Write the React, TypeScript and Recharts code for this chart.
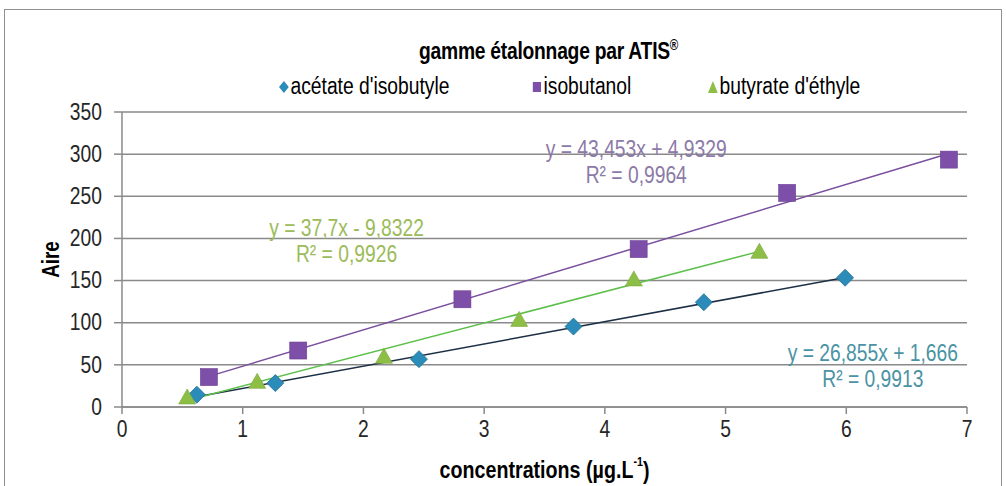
import React from 'react';
import {
  ComposedChart,
  Scatter,
  XAxis,
  YAxis,
  CartesianGrid,
  ReferenceLine,
  ReferenceDot,
  Label,
} from 'recharts';

// Concentrations (µg/L) and areas
const concAcetate = [0.62, 1.27, 2.46, 3.74, 4.82, 5.99];
const aireAcetate = [14.6, 28.4, 56.8, 95.4, 124.3, 153.4];
const concIsobutanol = [0.72, 1.46, 2.82, 4.28, 5.51, 6.85];
const aireIsobutanol = [35.5, 67, 127.8, 187.3, 254, 293.5];
const concButyrate = [0.54, 1.12, 2.17, 3.29, 4.24, 5.28];
const aireButyrate = [12.5, 31, 60.7, 104.5, 152.6, 185.3];

const seriesNames = ["acétate d'isobutyle", 'isobutanol', "butyrate d'éthyle"];
const trendEquation = ['y = 26,855x + 1,666', 'y = 43,453x + 4,9329', 'y = 37,7x - 9,8322'];
const trendR2 = ['R² = 0,9913', 'R² = 0,9964', 'R² = 0,9926'];

const xTicks = [0, 1, 2, 3, 4, 5, 6, 7];
const yTicks = [0, 50, 100, 150, 200, 250, 300, 350];

// no Arial Narrow here, so squeeze Liberation Sans
const FONT = "'Liberation Sans', Arial, sans-serif";
const NARROW = 0.82;
const FS = 23.5;

const markerColor = ['#2b8cb9', '#7d4fa8', '#8dbf46'];
const lineColor = ['#1c2f45', '#7a4f9e', '#5cbf4a'];
const labelColor = ['#4a93a4', '#8c7aa8', '#9cbb5a'];
// where each equation label sits, in data units
const labelAnchor = [
  { x: 6.22, y: 49 },
  { x: 4.26, y: 292 },
  { x: 1.86, y: 198 },
];

const toPoints = (xs: number[], ys: number[]) => xs.map((x, i) => ({ x, y: ys[i] }));
const series = [
  toPoints(concAcetate, aireAcetate),
  toPoints(concIsobutanol, aireIsobutanol),
  toPoints(concButyrate, aireButyrate),
];

// least squares line through the plotted points
const fit = (pts: { x: number; y: number }[]) => {
  const n = pts.length;
  const mx = pts.reduce((s, p) => s + p.x, 0) / n;
  const my = pts.reduce((s, p) => s + p.y, 0) / n;
  let sxy = 0;
  let sxx = 0;
  pts.forEach((p) => {
    sxy += (p.x - mx) * (p.y - my);
    sxx += (p.x - mx) * (p.x - mx);
  });
  const a = sxy / sxx;
  return { a, b: my - a * mx };
};

const NarrowText = ({ x, y, children, anchor = 'middle', ...rest }: any) => (
  <text
    transform={`translate(${x},${y}) scale(${NARROW},1)`}
    textAnchor={anchor}
    dominantBaseline="central"
    fontFamily={FONT}
    fontSize={FS}
    {...rest}
  >
    {children}
  </text>
);

const XTick = (props: any) => {
  const { x, y, payload } = props;
  return (
    <NarrowText x={x} y={y + 13} fill="#262626">
      {payload.value}
    </NarrowText>
  );
};

const YTick = (props: any) => {
  const { x, y, payload } = props;
  return (
    <NarrowText x={x} y={y} anchor="end" fill="#262626">
      {payload.value}
    </NarrowText>
  );
};

const Diamond = (props: any) => {
  const { cx, cy } = props;
  const r = 8.5;
  return (
    <polygon
      points={`${cx},${cy - r} ${cx + r},${cy} ${cx},${cy + r} ${cx - r},${cy}`}
      fill={markerColor[0]}
      stroke="#1f6f95"
      strokeWidth={0.8}
    />
  );
};

const Square = (props: any) => {
  const { cx, cy } = props;
  const s = 17;
  return <rect x={cx - s / 2} y={cy - s / 2} width={s} height={s} fill={markerColor[1]} stroke="#6a3f93" strokeWidth={0.6} />;
};

const Triangle = (props: any) => {
  const { cx, cy } = props;
  const w = 17;
  const h = 15;
  return (
    <polygon
      points={`${cx},${cy - h / 2} ${cx + w / 2},${cy + h / 2} ${cx - w / 2},${cy + h / 2}`}
      fill={markerColor[2]}
      stroke="#79a83a"
      strokeWidth={0.6}
    />
  );
};

const shapes = [Diamond, Square, Triangle];

const EquationLabel = (i: number) => (props: any) => {
  const { cx, cy } = props;
  return (
    <g>
      <NarrowText x={cx} y={cy - 12} fill={labelColor[i]}>
        {trendEquation[i]}
      </NarrowText>
      <NarrowText x={cx} y={cy + 14} fill={labelColor[i]}>
        {trendR2[i]}
      </NarrowText>
    </g>
  );
};

const LegendMarker = ({ i }: { i: number }) => (
  <svg width={12} height={12} style={{ marginRight: 2 }}>
    {i === 0 && <polygon points="6,0 12,6 6,12 0,6" fill={markerColor[0]} />}
    {i === 1 && <rect x={1} y={1} width={10} height={10} fill={markerColor[1]} />}
    {i === 2 && <polygon points="6,0 12,12 0,12" fill={markerColor[2]} />}
  </svg>
);

const narrowHtml: React.CSSProperties = {
  display: 'inline-block',
  transform: `scaleX(${NARROW})`,
  transformOrigin: 'left center',
  whiteSpace: 'nowrap',
};

const legendLeft = [279, 532, 708];

export default function App() {
  return (
    <div
      style={{
        position: 'fixed',
        left: 0,
        top: 0,
        width: 1006,
        height: 486,
        background: '#fff',
        overflow: 'hidden',
        fontFamily: FONT,
      }}
    >
      <div
        style={{
          position: 'absolute',
          left: 4,
          top: 9,
          width: 996,
          height: 500,
          border: '1px solid #8f8f8f',
        }}
      />
      <div
        style={{
          position: 'absolute',
          left: 419,
          top: 37,
          fontWeight: 'bold',
          fontSize: 23.5,
          letterSpacing: -0.3,
          color: '#000',
          ...narrowHtml,
        }}
      >
        gamme étalonnage par ATIS<sup style={{ fontSize: 14 }}>®</sup>
      </div>
      {seriesNames.map((n, i) => (
        <div
          key={n}
          style={{
            position: 'absolute',
            left: legendLeft[i],
            top: 73,
            fontSize: FS,
            color: '#000',
            ...narrowHtml,
            display: 'flex',
            alignItems: 'center',
          }}
        >
          <LegendMarker i={i} />
          {n}
        </div>
      ))}

      <div style={{ position: 'absolute', left: 0, top: 0 }}>
        <ComposedChart width={1006} height={486} margin={{ top: 112, right: 39, bottom: 39, left: 52 }}>
          <CartesianGrid horizontal vertical={false} stroke="#8a8a8a" strokeWidth={1.5} />
          <XAxis
            type="number"
            dataKey="x"
            domain={[0, 7]}
            ticks={xTicks}
            interval={0}
            height={40}
            tickSize={7}
            stroke="#8a8a8a"
            strokeWidth={1.5}
            tick={<XTick />}
          >
            <Label
              content={(p: any) => {
                const vb = p.viewBox;
                return (
                  <NarrowText x={vb.x + vb.width / 2} y={470} fontWeight="bold" fontSize={24} fill="#000">
                    concentrations (µg.L
                    <tspan dy={-8} fontSize={13}>-1</tspan>
                    <tspan dy={8}>)</tspan>
                  </NarrowText>
                );
              }}
            />
          </XAxis>
          <YAxis
            type="number"
            dataKey="y"
            domain={[0, 350]}
            ticks={yTicks}
            interval={0}
            width={70}
            tickSize={8}
            tickMargin={12}
            stroke="#8a8a8a"
            strokeWidth={1.5}
            tick={<YTick />}
          >
            <Label
              content={(p: any) => {
                const vb = p.viewBox;
                const cy = vb.y + vb.height / 2;
                return (
                  <text
                    transform={`translate(51,${cy}) rotate(-90) scale(${NARROW},1)`}
                    textAnchor="middle"
                    dominantBaseline="central"
                    fontWeight="bold"
                    fontSize={23}
                    fontFamily={FONT}
                    fill="#000"
                  >
                    Aire
                  </text>
                );
              }}
            />
          </YAxis>

          {series.map((pts, i) => {
            const xs = pts.map((p) => p.x);
            const x0 = Math.min(...xs);
            const x1 = Math.max(...xs);
            const { a, b } = fit(pts);
            return (
              <ReferenceLine
                key={`trend-${i}`}
                segment={[
                  { x: x0, y: a * x0 + b },
                  { x: x1, y: a * x1 + b },
                ]}
                stroke={lineColor[i]}
                strokeWidth={1.5}
                ifOverflow="visible"
              />
            );
          })}

          {series.map((pts, i) => (
            <Scatter
              key={seriesNames[i]}
              name={seriesNames[i]}
              data={pts}
              shape={shapes[i]}
              isAnimationActive={false}
            />
          ))}

          {labelAnchor.map((a, i) => (
            <ReferenceDot key={`lbl-${i}`} x={a.x} y={a.y} r={0} shape={EquationLabel(i)} ifOverflow="visible" />
          ))}
        </ComposedChart>
      </div>
    </div>
  );
}
